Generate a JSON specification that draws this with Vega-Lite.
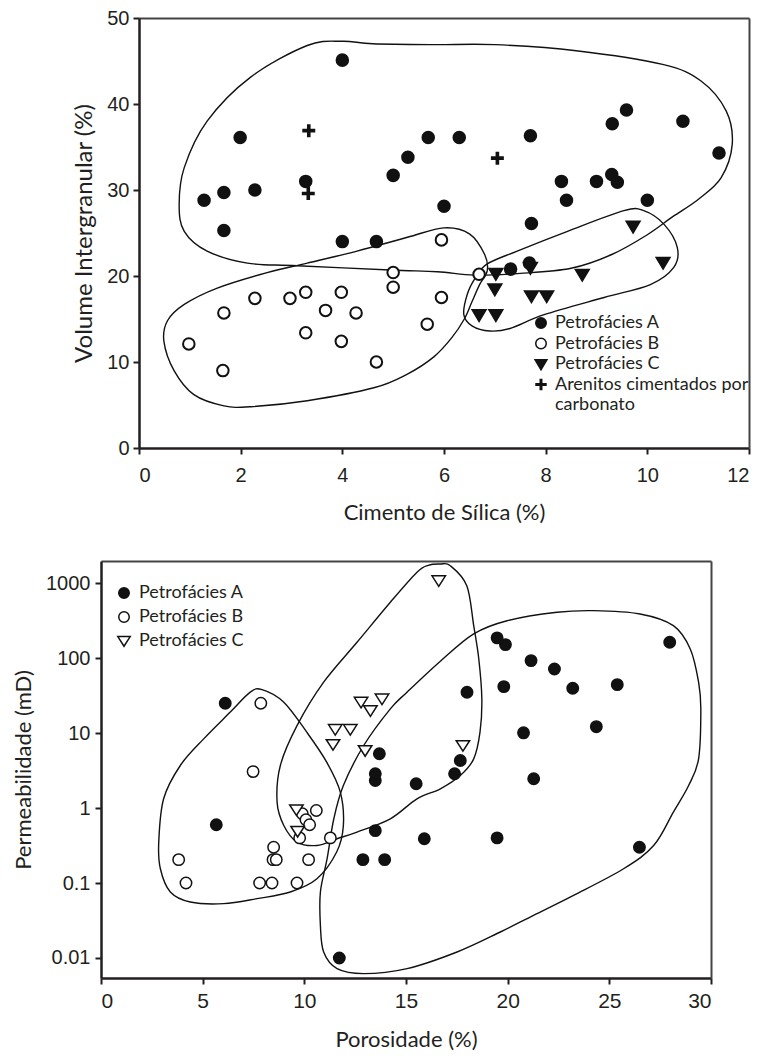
{
  "$schema": "https://vega.github.io/schema/vega-lite/v6.json",
  "background": "white",
  "padding": {"left": 12, "top": 8, "right": 4, "bottom": 4},
  "spacing": 37,
  "resolve": {"scale": {"shape": "independent", "fill": "independent"}, "legend": {"shape": "independent", "fill": "independent"}},
  "config": {
    "view": {"stroke": null},
    "axis": {
      "grid": false,
      "labelFont": "Liberation Sans",
      "labelColor": "#231f20",
      "titleFont": "Lato",
      "titleFontWeight": "normal",
      "titleColor": "#231f20",
      "domainColor": "#231f20",
      "tickColor": "#231f20",
      "tickSize": 6,
      "tickWidth": 2,
      "domainWidth": 2.5
    },
    "legend": {"padding": 0}
  },
  "datasets": {
    "topPts": [
      {"f": "Petrofácies A", "x": 1.28, "y": 28.8}, {"f": "Petrofácies A", "x": 1.67, "y": 29.7}, {"f": "Petrofácies A", "x": 1.67, "y": 25.3},
      {"f": "Petrofácies A", "x": 1.99, "y": 36.1}, {"f": "Petrofácies A", "x": 2.28, "y": 30.0}, {"f": "Petrofácies A", "x": 3.28, "y": 31.0},
      {"f": "Petrofácies A", "x": 4.0, "y": 45.1}, {"f": "Petrofácies A", "x": 4.0, "y": 24.0}, {"f": "Petrofácies A", "x": 4.67, "y": 24.0},
      {"f": "Petrofácies A", "x": 5.0, "y": 31.7}, {"f": "Petrofácies A", "x": 5.29, "y": 33.8}, {"f": "Petrofácies A", "x": 5.69, "y": 36.1},
      {"f": "Petrofácies A", "x": 6.3, "y": 36.1}, {"f": "Petrofácies A", "x": 6.0, "y": 28.1}, {"f": "Petrofácies A", "x": 7.7, "y": 36.3},
      {"f": "Petrofácies A", "x": 7.72, "y": 26.1}, {"f": "Petrofácies A", "x": 8.31, "y": 31.0}, {"f": "Petrofácies A", "x": 8.41, "y": 28.8},
      {"f": "Petrofácies A", "x": 9.0, "y": 31.0}, {"f": "Petrofácies A", "x": 9.3, "y": 31.8}, {"f": "Petrofácies A", "x": 9.41, "y": 30.9},
      {"f": "Petrofácies A", "x": 9.31, "y": 37.7}, {"f": "Petrofácies A", "x": 9.59, "y": 39.3}, {"f": "Petrofácies A", "x": 10.0, "y": 28.8},
      {"f": "Petrofácies A", "x": 10.7, "y": 38.0}, {"f": "Petrofácies A", "x": 11.41, "y": 34.3},
      {"f": "Petrofácies B", "x": 0.98, "y": 12.1}, {"f": "Petrofácies B", "x": 1.65, "y": 9.0}, {"f": "Petrofácies B", "x": 1.67, "y": 15.7},
      {"f": "Petrofácies B", "x": 2.28, "y": 17.4}, {"f": "Petrofácies B", "x": 2.97, "y": 17.4}, {"f": "Petrofácies B", "x": 3.28, "y": 18.1},
      {"f": "Petrofácies B", "x": 3.28, "y": 13.4}, {"f": "Petrofácies B", "x": 3.67, "y": 16.0}, {"f": "Petrofácies B", "x": 3.98, "y": 18.1},
      {"f": "Petrofácies B", "x": 3.98, "y": 12.4}, {"f": "Petrofácies B", "x": 4.27, "y": 15.7}, {"f": "Petrofácies B", "x": 4.67, "y": 10.0},
      {"f": "Petrofácies B", "x": 5.0, "y": 20.4}, {"f": "Petrofácies B", "x": 5.0, "y": 18.7}, {"f": "Petrofácies B", "x": 5.67, "y": 14.4},
      {"f": "Petrofácies B", "x": 5.95, "y": 24.2}, {"f": "Petrofácies B", "x": 5.95, "y": 17.5}, {"f": "Petrofácies B", "x": 6.69, "y": 20.2},
      {"f": "Petrofácies C", "x": 6.69, "y": 15.5}, {"f": "Petrofácies C", "x": 7.02, "y": 15.5}, {"f": "Petrofácies C", "x": 7.0, "y": 18.5},
      {"f": "Petrofácies C", "x": 7.02, "y": 20.3}, {"f": "Petrofácies C", "x": 7.7, "y": 21.0}, {"f": "Petrofácies C", "x": 7.72, "y": 17.7},
      {"f": "Petrofácies C", "x": 8.02, "y": 17.7}, {"f": "Petrofácies C", "x": 8.72, "y": 20.2}, {"f": "Petrofácies C", "x": 9.72, "y": 25.8},
      {"f": "Petrofácies C", "x": 10.31, "y": 21.6},
      {"f": "Petrofácies A", "x": 7.31, "y": 20.8}, {"f": "Petrofácies A", "x": 7.68, "y": 21.5},
      {"f": "Arenitos cimentados por carbonato", "x": 3.34, "y": 36.9}, {"f": "Arenitos cimentados por carbonato", "x": 3.33, "y": 29.6},
      {"f": "Arenitos cimentados por carbonato", "x": 7.05, "y": 33.7}
    ],
    "topEnv": [
      {"env": "A", "i": 0, "x": 4.0, "y": 47.3}, {"env": "A", "i": 1, "x": 4.6, "y": 47.0}, {"env": "A", "i": 2, "x": 5.8, "y": 46.9},
      {"env": "A", "i": 3, "x": 7.0, "y": 46.9}, {"env": "A", "i": 4, "x": 8.6, "y": 46.2}, {"env": "A", "i": 5, "x": 10.3, "y": 44.6},
      {"env": "A", "i": 6, "x": 11.05, "y": 42.7}, {"env": "A", "i": 7, "x": 11.55, "y": 39.2}, {"env": "A", "i": 8, "x": 11.67, "y": 35.3},
      {"env": "A", "i": 9, "x": 11.45, "y": 31.4}, {"env": "A", "i": 10, "x": 11.0, "y": 28.9}, {"env": "A", "i": 11, "x": 10.5, "y": 26.9},
      {"env": "A", "i": 12, "x": 10.0, "y": 24.8}, {"env": "A", "i": 13, "x": 9.3, "y": 22.5}, {"env": "A", "i": 14, "x": 8.5, "y": 20.9},
      {"env": "A", "i": 15, "x": 7.5, "y": 20.3}, {"env": "A", "i": 16, "x": 6.6, "y": 20.1}, {"env": "A", "i": 17, "x": 5.87, "y": 20.5},
      {"env": "A", "i": 18, "x": 4.94, "y": 20.7}, {"env": "A", "i": 19, "x": 3.11, "y": 21.2}, {"env": "A", "i": 20, "x": 2.13, "y": 21.5},
      {"env": "A", "i": 21, "x": 1.34, "y": 22.9}, {"env": "A", "i": 22, "x": 0.89, "y": 25.2}, {"env": "A", "i": 23, "x": 0.79, "y": 28.3},
      {"env": "A", "i": 24, "x": 0.89, "y": 32.6}, {"env": "A", "i": 25, "x": 1.34, "y": 38.0}, {"env": "A", "i": 26, "x": 2.19, "y": 43.1},
      {"env": "A", "i": 27, "x": 3.31, "y": 46.8},
      {"env": "B", "i": 0, "x": 0.49, "y": 12.4}, {"env": "B", "i": 1, "x": 0.56, "y": 14.8}, {"env": "B", "i": 2, "x": 0.89, "y": 16.7},
      {"env": "B", "i": 3, "x": 1.54, "y": 18.6}, {"env": "B", "i": 4, "x": 2.52, "y": 20.4}, {"env": "B", "i": 5, "x": 3.31, "y": 21.5},
      {"env": "B", "i": 6, "x": 4.29, "y": 22.9}, {"env": "B", "i": 7, "x": 5.28, "y": 24.5}, {"env": "B", "i": 8, "x": 6.0, "y": 25.6},
      {"env": "B", "i": 9, "x": 6.5, "y": 24.9}, {"env": "B", "i": 10, "x": 6.8, "y": 22.5}, {"env": "B", "i": 11, "x": 6.85, "y": 20.6},
      {"env": "B", "i": 12, "x": 6.7, "y": 19.0}, {"env": "B", "i": 13, "x": 6.55, "y": 17.0}, {"env": "B", "i": 14, "x": 6.4, "y": 15.0},
      {"env": "B", "i": 15, "x": 6.15, "y": 12.8}, {"env": "B", "i": 16, "x": 5.8, "y": 10.6}, {"env": "B", "i": 17, "x": 5.28, "y": 8.6},
      {"env": "B", "i": 18, "x": 4.62, "y": 7.0}, {"env": "B", "i": 19, "x": 3.31, "y": 5.5}, {"env": "B", "i": 20, "x": 2.2, "y": 4.8},
      {"env": "B", "i": 21, "x": 1.67, "y": 4.9}, {"env": "B", "i": 22, "x": 1.08, "y": 6.2}, {"env": "B", "i": 23, "x": 0.69, "y": 9.0},
      {"env": "C", "i": 0, "x": 6.85, "y": 21.4}, {"env": "C", "i": 1, "x": 7.44, "y": 22.9}, {"env": "C", "i": 2, "x": 8.43, "y": 25.2},
      {"env": "C", "i": 3, "x": 9.54, "y": 27.6}, {"env": "C", "i": 4, "x": 9.93, "y": 27.6}, {"env": "C", "i": 5, "x": 10.33, "y": 26.0},
      {"env": "C", "i": 6, "x": 10.59, "y": 23.3}, {"env": "C", "i": 7, "x": 10.52, "y": 21.0}, {"env": "C", "i": 8, "x": 10.06, "y": 19.0},
      {"env": "C", "i": 9, "x": 9.15, "y": 17.5}, {"env": "C", "i": 10, "x": 7.97, "y": 15.5}, {"env": "C", "i": 11, "x": 7.3, "y": 13.9},
      {"env": "C", "i": 12, "x": 6.9, "y": 13.6}, {"env": "C", "i": 13, "x": 6.55, "y": 14.2}, {"env": "C", "i": 14, "x": 6.39, "y": 15.5},
      {"env": "C", "i": 15, "x": 6.46, "y": 17.9}, {"env": "C", "i": 16, "x": 6.62, "y": 19.8}
    ],
    "botPts": [
      {"f": "Petrofácies A", "x": 6.11, "k": 25.1}, {"f": "Petrofácies A", "x": 5.67, "k": 0.6}, {"f": "Petrofácies A", "x": 11.72, "k": 0.01},
      {"f": "Petrofácies A", "x": 12.88, "k": 0.205}, {"f": "Petrofácies A", "x": 13.95, "k": 0.205}, {"f": "Petrofácies A", "x": 13.49, "k": 0.5},
      {"f": "Petrofácies A", "x": 13.49, "k": 2.33}, {"f": "Petrofácies A", "x": 13.49, "k": 2.87}, {"f": "Petrofácies A", "x": 13.69, "k": 5.3},
      {"f": "Petrofácies A", "x": 15.5, "k": 2.11}, {"f": "Petrofácies A", "x": 15.9, "k": 0.39}, {"f": "Petrofácies A", "x": 17.39, "k": 2.87},
      {"f": "Petrofácies A", "x": 17.67, "k": 4.31}, {"f": "Petrofácies A", "x": 18.0, "k": 35.2}, {"f": "Petrofácies A", "x": 19.48, "k": 187},
      {"f": "Petrofácies A", "x": 19.89, "k": 152}, {"f": "Petrofácies A", "x": 19.81, "k": 41.8}, {"f": "Petrofácies A", "x": 19.48, "k": 0.4},
      {"f": "Petrofácies A", "x": 20.78, "k": 10.1}, {"f": "Petrofácies A", "x": 21.15, "k": 92.9}, {"f": "Petrofácies A", "x": 21.28, "k": 2.46},
      {"f": "Petrofácies A", "x": 22.3, "k": 71.9}, {"f": "Petrofácies A", "x": 23.2, "k": 39.8}, {"f": "Petrofácies A", "x": 24.36, "k": 12.2},
      {"f": "Petrofácies A", "x": 25.39, "k": 44.4}, {"f": "Petrofácies A", "x": 26.48, "k": 0.3}, {"f": "Petrofácies A", "x": 27.97, "k": 163},
      {"f": "Petrofácies B", "x": 3.82, "k": 0.205}, {"f": "Petrofácies B", "x": 4.18, "k": 0.1}, {"f": "Petrofácies B", "x": 7.48, "k": 3.07},
      {"f": "Petrofácies B", "x": 7.86, "k": 25.1}, {"f": "Petrofácies B", "x": 7.8, "k": 0.1}, {"f": "Petrofácies B", "x": 8.41, "k": 0.1},
      {"f": "Petrofácies B", "x": 8.49, "k": 0.3}, {"f": "Petrofácies B", "x": 8.46, "k": 0.205}, {"f": "Petrofácies B", "x": 8.62, "k": 0.205},
      {"f": "Petrofácies B", "x": 9.64, "k": 0.1}, {"f": "Petrofácies B", "x": 9.77, "k": 0.4}, {"f": "Petrofácies B", "x": 9.9, "k": 0.84},
      {"f": "Petrofácies B", "x": 10.08, "k": 0.7}, {"f": "Petrofácies B", "x": 10.26, "k": 0.6}, {"f": "Petrofácies B", "x": 10.59, "k": 0.93},
      {"f": "Petrofácies B", "x": 10.21, "k": 0.205}, {"f": "Petrofácies B", "x": 11.28, "k": 0.4},
      {"f": "Petrofácies C", "x": 16.61, "k": 1083}, {"f": "Petrofácies C", "x": 13.82, "k": 28.6}, {"f": "Petrofácies C", "x": 12.79, "k": 25.9},
      {"f": "Petrofácies C", "x": 13.25, "k": 20.0}, {"f": "Petrofácies C", "x": 11.52, "k": 11.2}, {"f": "Petrofácies C", "x": 12.26, "k": 11.2},
      {"f": "Petrofácies C", "x": 11.41, "k": 7.05}, {"f": "Petrofácies C", "x": 12.99, "k": 5.86}, {"f": "Petrofácies C", "x": 17.8, "k": 6.84},
      {"f": "Petrofácies C", "x": 9.61, "k": 0.95}, {"f": "Petrofácies C", "x": 9.67, "k": 0.49}
    ],
    "botEnv": [
      {"env": "A", "i": 0, "x": 14.23, "k": 21.1}, {"env": "A", "i": 1, "x": 15.05, "k": 35.2}, {"env": "A", "i": 2, "x": 16.69, "k": 91.2},
      {"env": "A", "i": 3, "x": 18.33, "k": 211}, {"env": "A", "i": 4, "x": 19.97, "k": 316}, {"env": "A", "i": 5, "x": 22.43, "k": 410},
      {"env": "A", "i": 6, "x": 24.22, "k": 431}, {"env": "A", "i": 7, "x": 26.51, "k": 389}, {"env": "A", "i": 8, "x": 28.15, "k": 272},
      {"env": "A", "i": 9, "x": 28.98, "k": 133}, {"env": "A", "i": 10, "x": 29.39, "k": 47.9}, {"env": "A", "i": 11, "x": 29.5, "k": 21.1},
      {"env": "A", "i": 12, "x": 29.39, "k": 4.54}, {"env": "A", "i": 13, "x": 28.9, "k": 2.0}, {"env": "A", "i": 14, "x": 28.15, "k": 0.885},
      {"env": "A", "i": 15, "x": 27.18, "k": 0.316}, {"env": "A", "i": 16, "x": 25.7, "k": 0.155}, {"env": "A", "i": 17, "x": 23.24, "k": 0.0684},
      {"env": "A", "i": 18, "x": 21.27, "k": 0.037}, {"env": "A", "i": 19, "x": 19.64, "k": 0.0222}, {"env": "A", "i": 20, "x": 17.51, "k": 0.012},
      {"env": "A", "i": 21, "x": 15.05, "k": 0.0072}, {"env": "A", "i": 22, "x": 12.92, "k": 0.00618}, {"env": "A", "i": 23, "x": 11.61, "k": 0.0072},
      {"env": "A", "i": 24, "x": 10.95, "k": 0.012}, {"env": "A", "i": 25, "x": 10.79, "k": 0.0272}, {"env": "A", "i": 26, "x": 10.79, "k": 0.0759},
      {"env": "A", "i": 27, "x": 11.12, "k": 0.211}, {"env": "A", "i": 28, "x": 11.45, "k": 0.72}, {"env": "A", "i": 29, "x": 11.92, "k": 2.0},
      {"env": "A", "i": 30, "x": 12.92, "k": 6.84},
      {"env": "B", "i": 0, "x": 7.92, "k": 38.1}, {"env": "B", "i": 1, "x": 8.99, "k": 25.9}, {"env": "B", "i": 2, "x": 10.12, "k": 10.3},
      {"env": "B", "i": 3, "x": 11.1, "k": 4.1}, {"env": "B", "i": 4, "x": 11.77, "k": 1.63}, {"env": "B", "i": 5, "x": 11.92, "k": 0.586},
      {"env": "B", "i": 6, "x": 11.59, "k": 0.259}, {"env": "B", "i": 7, "x": 10.62, "k": 0.114}, {"env": "B", "i": 8, "x": 9.31, "k": 0.0759},
      {"env": "B", "i": 9, "x": 7.67, "k": 0.0618}, {"env": "B", "i": 10, "x": 6.03, "k": 0.053}, {"env": "B", "i": 11, "x": 4.39, "k": 0.0558},
      {"env": "B", "i": 12, "x": 3.41, "k": 0.0759}, {"env": "B", "i": 13, "x": 2.92, "k": 0.155}, {"env": "B", "i": 14, "x": 2.84, "k": 0.352},
      {"env": "B", "i": 15, "x": 3.08, "k": 1.33}, {"env": "B", "i": 16, "x": 3.9, "k": 3.7}, {"env": "B", "i": 17, "x": 5.05, "k": 8.39},
      {"env": "B", "i": 18, "x": 6.36, "k": 19.1}, {"env": "B", "i": 19, "x": 7.34, "k": 35.2},
      {"env": "C", "i": 0, "x": 16.69, "k": 1807}, {"env": "C", "i": 1, "x": 17.18, "k": 1718}, {"env": "C", "i": 2, "x": 17.99, "k": 929},
      {"env": "C", "i": 3, "x": 18.33, "k": 272}, {"env": "C", "i": 4, "x": 18.58, "k": 97.7}, {"env": "C", "i": 5, "x": 18.73, "k": 28.6},
      {"env": "C", "i": 6, "x": 18.64, "k": 10.3}, {"env": "C", "i": 7, "x": 18.33, "k": 4.54}, {"env": "C", "i": 8, "x": 17.67, "k": 2.72},
      {"env": "C", "i": 9, "x": 16.69, "k": 1.81}, {"env": "C", "i": 10, "x": 15.54, "k": 1.33}, {"env": "C", "i": 11, "x": 14.23, "k": 0.72},
      {"env": "C", "i": 12, "x": 12.59, "k": 0.479}, {"env": "C", "i": 13, "x": 11.61, "k": 0.39}, {"env": "C", "i": 14, "x": 10.62, "k": 0.317},
      {"env": "C", "i": 15, "x": 9.64, "k": 0.352}, {"env": "C", "i": 16, "x": 8.99, "k": 0.586}, {"env": "C", "i": 17, "x": 8.66, "k": 1.2},
      {"env": "C", "i": 18, "x": 8.82, "k": 3.7}, {"env": "C", "i": 19, "x": 9.64, "k": 12.6}, {"env": "C", "i": 20, "x": 10.95, "k": 47.9},
      {"env": "C", "i": 21, "x": 12.59, "k": 163}, {"env": "C", "i": 22, "x": 14.23, "k": 558}, {"env": "C", "i": 23, "x": 15.54, "k": 1403},
      {"env": "C", "i": 24, "x": 16.1, "k": 1738}
    ]
  },
  "vconcat": [
    {
      "width": 648,
      "height": 430,
      "layer": [
        {
          "data": {"name": "topEnv"},
          "mark": {"type": "line", "interpolate": "cardinal-closed", "stroke": "#111", "strokeWidth": 1.4},
          "encoding": {
            "x": {"field": "x", "type": "quantitative",
                  "scale": {"domain": [0, 12], "range": [38, 648], "nice": false, "zero": false},
                  "axis": {"orient": "bottom", "values": [0, 2, 4, 6, 8, 10, 12], "title": "Cimento de Sílica (%)",
                           "labelFontSize": 20, "labelPadding": 11, "titleFontSize": 22, "titlePadding": 17}},
            "y": {"field": "y", "type": "quantitative",
                  "scale": {"domain": [0, 50], "nice": false, "zero": false},
                  "axis": {"orient": "left", "offset": -38, "values": [0, 10, 20, 30, 40, 50], "title": "Volume Intergranular (%)",
                           "labelFontSize": 20, "labelPadding": 4, "titleFontSize": 24, "titlePadding": 10}},
            "detail": {"field": "env", "type": "nominal"},
            "order": {"field": "i", "type": "quantitative"}
          }
        },
        {
          "data": {"name": "topPts"},
          "mark": {"type": "point", "filled": true, "size": 133, "stroke": "#111", "strokeWidth": 2, "opacity": 1},
          "encoding": {
            "x": {"field": "x", "type": "quantitative",
                  "axis": {"orient": "top", "labels": false, "ticks": false, "title": null, "domainWidth": 2, "domainColor": "#444"}},
            "y": {"field": "y", "type": "quantitative",
                  "axis": {"orient": "right", "labels": false, "ticks": false, "title": null, "domainWidth": 2, "domainColor": "#444"}},
            "shape": {"field": "f", "type": "nominal",
                      "scale": {"domain": ["Petrofácies A", "Petrofácies B", "Petrofácies C", "Arenitos cimentados por carbonato"],
                                "range": ["circle", "circle", "M-1.13,-0.8L1.13,-0.8L0,1.1Z",
                                          "M-0.95,-0.14H-0.14V-0.95H0.14V-0.14H0.95V0.14H0.14V0.95H-0.14V0.14H-0.95Z"]},
                      "legend": {"orient": "none", "legendX": 431, "legendY": 296, "title": null,
                                 "labelFont": "Lato", "labelFontSize": 18, "labelColor": "#231f20", "rowPadding": 2.5, "labelOffset": 5,
                                 "labelLimit": 400, "symbolSize": 110,
                                 "labelExpr": "datum.label == 'Arenitos cimentados por carbonato' ? ['Arenitos cimentados por', 'carbonato'] : datum.label",
                                 "encode": {"symbols": {"update": {"stroke": {"value": "#111"}, "strokeWidth": {"value": 2}}}}}},
            "fill": {"field": "f", "type": "nominal",
                     "scale": {"domain": ["Petrofácies A", "Petrofácies B", "Petrofácies C", "Arenitos cimentados por carbonato"],
                               "range": ["#111", "white", "#111", "#111"]},
                     "legend": {"orient": "none", "legendX": 431, "legendY": 296, "title": null,
                                "labelFont": "Lato", "labelFontSize": 18, "labelColor": "#231f20", "rowPadding": 2.5, "labelOffset": 5,
                                "labelLimit": 400, "symbolSize": 110,
                                "labelExpr": "datum.label == 'Arenitos cimentados por carbonato' ? ['Arenitos cimentados por', 'carbonato'] : datum.label",
                                "encode": {"symbols": {"update": {"stroke": {"value": "#111"}, "strokeWidth": {"value": 2}}}}}}
          }
        }
      ],
      "resolve": {"axis": {"x": "independent", "y": "independent"}}
    },
    {
      "width": 610,
      "height": 417,
      "layer": [
        {
          "data": {"name": "botEnv"},
          "mark": {"type": "line", "interpolate": "cardinal-closed", "stroke": "#111", "strokeWidth": 1.4},
          "encoding": {
            "x": {"field": "x", "type": "quantitative",
                  "scale": {"domain": [0, 30], "nice": false, "zero": false},
                  "axis": {"orient": "bottom", "values": [0, 5, 10, 15, 20, 25, 30], "title": "Porosidade (%)",
                           "labelFontSize": 21, "labelPadding": 6, "titleFontSize": 22, "titlePadding": 18}},
            "y": {"field": "k", "type": "quantitative",
                  "scale": {"type": "log", "domain": [0.0054, 1983], "nice": false},
                  "axis": {"orient": "left", "values": [0.01, 0.1, 1, 10, 100, 1000], "title": "Permeabilidade (mD)",
                           "labelExpr": "datum.value >= 1 ? format(datum.value, 'd') : format(datum.value, '.2~f')",
                           "labelFontSize": 20, "labelPadding": 5, "titleFontSize": 22, "titlePadding": 10}},
            "detail": {"field": "env", "type": "nominal"},
            "order": {"field": "i", "type": "quantitative"}
          }
        },
        {
          "data": {"name": "botPts"},
          "mark": {"type": "point", "filled": true, "size": 130, "stroke": "#111", "strokeWidth": 1.5, "opacity": 1},
          "encoding": {
            "x": {"field": "x", "type": "quantitative",
                  "axis": {"orient": "top", "labels": false, "ticks": false, "title": null, "domainWidth": 2, "domainColor": "#444"}},
            "y": {"field": "k", "type": "quantitative",
                  "axis": {"orient": "right", "labels": false, "ticks": false, "title": null, "domainWidth": 2, "domainColor": "#444"}},
            "shape": {"field": "f", "type": "nominal",
                      "scale": {"domain": ["Petrofácies A", "Petrofácies B", "Petrofácies C"],
                                "range": ["circle", "circle", "M-1.18,-0.85L1.18,-0.85L0,1.0Z"]},
                      "legend": {"orient": "none", "legendX": 14, "legendY": 23, "title": null,
                                 "labelFont": "Lato", "labelFontSize": 18, "labelColor": "#231f20", "rowPadding": 6, "labelOffset": 6,
                                 "symbolSize": 110,
                                 "encode": {"symbols": {"update": {"stroke": {"value": "#111"}, "strokeWidth": {"value": 1.8}}}}}},
            "fill": {"field": "f", "type": "nominal",
                     "scale": {"domain": ["Petrofácies A", "Petrofácies B", "Petrofácies C"],
                               "range": ["#111", "white", "white"]},
                     "legend": {"orient": "none", "legendX": 14, "legendY": 23, "title": null,
                                "labelFont": "Lato", "labelFontSize": 18, "labelColor": "#231f20", "rowPadding": 6, "labelOffset": 6,
                                "symbolSize": 110,
                                "encode": {"symbols": {"update": {"stroke": {"value": "#111"}, "strokeWidth": {"value": 1.8}}}}}}
          }
        }
      ],
      "resolve": {"axis": {"x": "independent", "y": "independent"}}
    }
  ]
}
